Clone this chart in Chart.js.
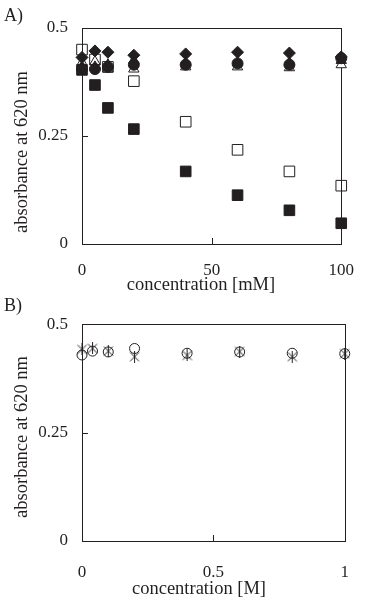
<!DOCTYPE html>
<html><head><meta charset="utf-8">
<script src="https://cdn.jsdelivr.net/npm/chart.js@4"></script>
<style>
html,body{margin:0;padding:0;background:#fff;width:370px;height:611px;overflow:hidden;}
canvas{position:absolute;left:0;}
.lbl{position:absolute;font-family:"Liberation Serif",serif;font-size:18px;color:#231f20;z-index:5;line-height:1;}
</style></head><body>
<canvas id="cA" width="370" height="300" style="top:0"></canvas>
<canvas id="cB" width="370" height="311" style="top:300px"></canvas>
<div class="lbl" style="left:4px;top:6px">A)</div>
<div class="lbl" style="left:4px;top:296px">B)</div>
<script>
// ---------- Data: panel A (concentration in mM) ----------
const concA = [0, 5, 10, 20, 40, 60, 80, 100];
const filledSquareA   = [0.403, 0.368, 0.315, 0.266, 0.168, 0.113, 0.078, 0.048];
const openSquareA     = [0.450, 0.427, 0.410, 0.377, 0.283, 0.218, 0.168, 0.135];
const filledDiamondA  = [0.432, 0.447, 0.444, 0.437, 0.440, 0.444, 0.442, 0.433];
const filledCircleA   = [0.405, 0.405, 0.410, 0.415, 0.415, 0.418, 0.415, 0.430];
const filledTriangleA = [0.410, 0.410, 0.415, 0.425, 0.420, 0.420, 0.420, 0.425];
const openTriangleA   = [0.420, 0.422, 0.405, 0.405, 0.410, 0.410, 0.408, 0.415];
const xTicksA = [0, 50, 100];
const yTicks = [0, 0.25, 0.5];

// ---------- Data: panel B (concentration in M) ----------
const concB = [0, 0.04, 0.1, 0.2, 0.4, 0.6, 0.8, 1.0];
const openCircleB = [0.429, 0.438, 0.436, 0.444, 0.433, 0.436, 0.433, 0.432];
const asteriskB   = [0.442, 0.444, 0.438, 0.425, 0.428, 0.437, 0.425, 0.432];
const xTicksB = [0, 0.5, 1];

const INK = '#231f20';
const FONT = '"Liberation Serif", "Times New Roman", serif';

function pts(xs, ys){ return xs.map((x,i)=>({x:x, y:ys[i]})); }

// asterisk marker (X plus vertical bar)
function asteriskImg(){
  const c = document.createElement('canvas');
  c.width = 11; c.height = 12;
  const g = c.getContext('2d');
  g.strokeStyle = INK; g.lineWidth = 1;
  g.beginPath();
  g.moveTo(1,1.5); g.lineTo(10,10.5);
  g.moveTo(10,1.5); g.lineTo(1,10.5);
  g.moveTo(5.5,0); g.lineTo(5.5,12);
  g.stroke();
  return c;
}

const framePlugin = {
  id: 'frame',
  beforeDatasetsDraw(chart, args, opts){
    const {ctx, chartArea:a, scales} = chart;
    ctx.save();
    ctx.strokeStyle = INK; ctx.lineWidth = 1;
    ctx.strokeRect(Math.round(a.left)+0.5, Math.round(a.top)+0.5, Math.round(a.right-a.left), Math.round(a.bottom-a.top));
    ctx.beginPath();
    opts.xTicks.slice(1,-1).forEach(v=>{
      const px = Math.round(scales.x.getPixelForValue(v))+0.5;
      ctx.moveTo(px, a.bottom); ctx.lineTo(px, a.bottom-6);
    });
    opts.yTicks.slice(1,-1).forEach(v=>{
      const py = Math.round(scales.y.getPixelForValue(v))+0.5;
      ctx.moveTo(a.left, py); ctx.lineTo(a.left+6, py);
    });
    ctx.stroke();
    // axis titles
    ctx.fillStyle = INK;
    ctx.font = '18.5px ' + FONT;
    ctx.textAlign = 'center';
    ctx.textBaseline = 'middle';
    ctx.fillText(opts.xTitle, opts.xtx, opts.xty);
    ctx.translate(22, opts.yty);
    ctx.rotate(-Math.PI/2);
    ctx.fillText('absorbance at 620 nm', 0, 0);
    ctx.restore();
  }
};

function makeChart(id, datasets, xTicks, xTitle, g){
  return new Chart(document.getElementById(id), {
    type: 'scatter',
    data: { datasets: datasets },
    plugins: [framePlugin],
    options: {
      responsive: false,
      animation: false,
      events: [],
      layout: { padding: { left: 0, right: g.right, top: g.top, bottom: 0 } },
      plugins: {
        legend: { display: false },
        tooltip: { enabled: false },
        frame: { xTicks: xTicks, yTicks: yTicks, xTitle: xTitle, xtx: g.xtx, xty: g.xty, yty: g.yty }
      },
      scales: {
        x: {
          type: 'linear', min: xTicks[0], max: xTicks[xTicks.length-1],
          afterBuildTicks: s => { s.ticks = xTicks.map(v=>({value:v})); },
          afterFit: s => { s.height = g.xh; },
          grid: { display: false, drawTicks: false },
          border: { display: false },
          ticks: { color: INK, font: { family: FONT, size: 17 }, padding: g.xtp, maxRotation: 0, autoSkip: false, callback: v => String(v) }
        },
        y: {
          type: 'linear', min: 0, max: 0.5,
          afterBuildTicks: s => { s.ticks = yTicks.map(v=>({value:v})); },
          afterFit: s => { s.width = 82; },
          grid: { display: false, drawTicks: false },
          border: { display: false },
          ticks: { color: INK, font: { family: FONT, size: 17 }, padding: 14, callback: v => String(v) }
        }
      }
    }
  });
}

const base = { showLine: false, clip: false, borderColor: INK, borderWidth: 1 };

makeChart('cA', [
  Object.assign({}, base, { label: 'filled square', data: pts(concA, filledSquareA), pointStyle: 'rect', pointRadius: 7.5, backgroundColor: INK }),
  Object.assign({}, base, { label: 'open square', data: pts(concA, openSquareA), pointStyle: 'rect', pointRadius: 7.5, backgroundColor: 'rgba(255,255,255,0)' }),
  Object.assign({}, base, { label: 'filled diamond', data: pts(concA, filledDiamondA), pointStyle: 'rectRot', pointRadius: 6, backgroundColor: INK }),
  Object.assign({}, base, { label: 'filled circle', data: pts(concA, filledCircleA), pointStyle: 'circle', pointRadius: 5.5, backgroundColor: INK }),
  Object.assign({}, base, { label: 'filled triangle', data: pts(concA, filledTriangleA), pointStyle: 'triangle', pointRadius: 6, backgroundColor: INK }),
  Object.assign({}, base, { label: 'open triangle', data: pts(concA, openTriangleA), pointStyle: 'triangle', pointRadius: 6, backgroundColor: '#ffffff' })
], xTicksA, 'concentration [mM]', { right: 18, top: 28, xh: 56, xtp: 16, xtx: 201, xty: 285, yty: 152 });

makeChart('cB', [
  Object.assign({}, base, { label: 'asterisk', data: pts(concB, asteriskB), pointStyle: asteriskImg(), pointRadius: 5 }),
  Object.assign({}, base, { label: 'open circle', data: pts(concB, openCircleB), pointStyle: 'circle', pointRadius: 5, backgroundColor: 'rgba(255,255,255,0)' })
], xTicksB, 'concentration [M]', { right: 17, top: 24, xh: 70, xtp: 21, xtx: 199, xty: 289, yty: 137 });
</script>
</body></html>
